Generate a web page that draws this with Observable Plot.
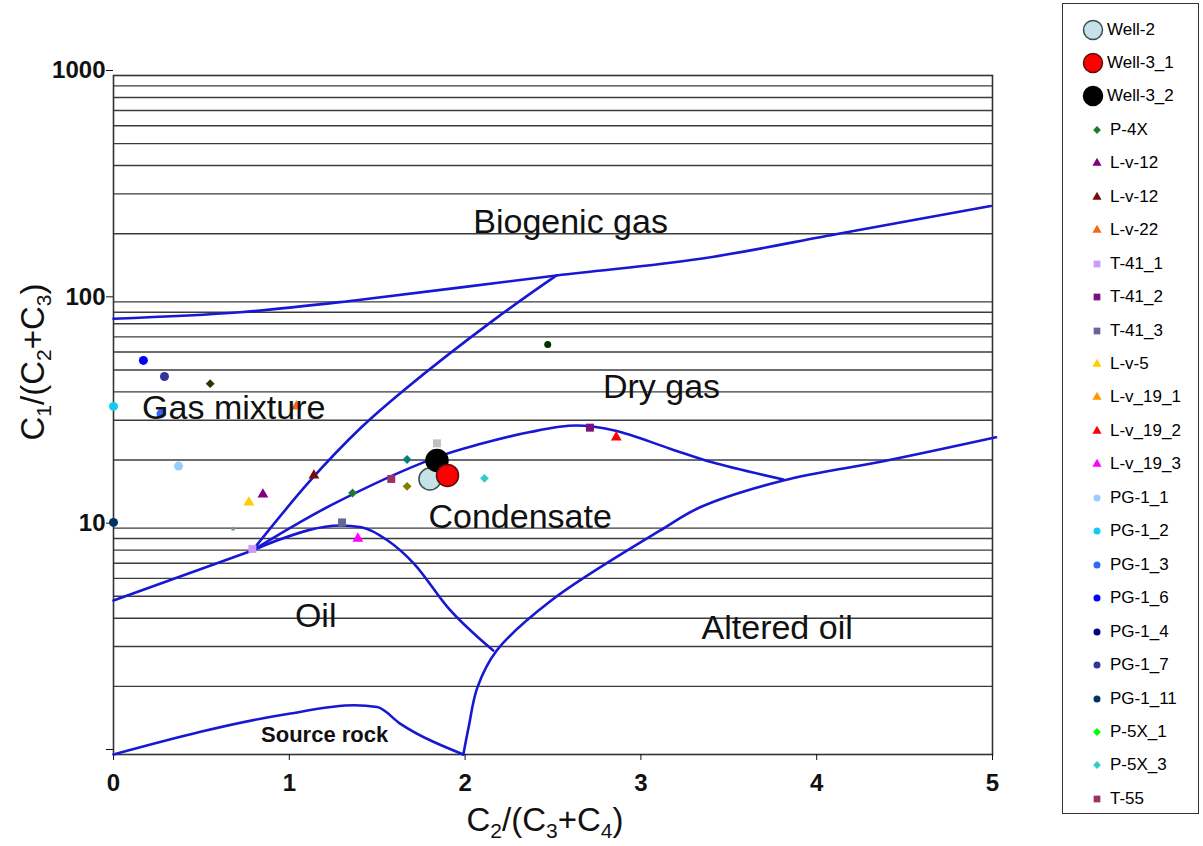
<!DOCTYPE html>
<html><head><meta charset="utf-8">
<script src="https://cdn.jsdelivr.net/npm/d3@7"></script>
<script src="https://cdn.jsdelivr.net/npm/@observablehq/plot@0.6"></script>
<style>
body{margin:0;background:#fff;font-family:Arial,"Liberation Sans",sans-serif;}
#wrap{position:relative;width:1203px;height:846px;overflow:hidden;background:#fff;}
#chart{position:absolute;left:0;top:0;}
#legend{position:absolute;left:1062px;top:3px;width:137px;height:811px;border:1.5px solid #333;box-sizing:border-box;background:#fff;}
.item{position:absolute;height:22px;line-height:22px;font-size:17px;color:#000;white-space:nowrap;}
.mk{position:absolute;}
.title{position:absolute;font-size:33px;color:#111;white-space:nowrap;line-height:1;}
.title sub{font-size:21px;vertical-align:-7px;}
#ytitle{left:35px;top:362px;transform:translate(-50%,-50%) rotate(-90deg);}
#xtitle{left:545px;top:822px;transform:translate(-50%,-50%);}
</style>
</head><body>
<div id="wrap">
  <div id="chart"></div>
  <div id="ytitle" class="title">C<sub>1</sub>/(C<sub>2</sub>+C<sub>3</sub>)</div>
  <div id="xtitle" class="title">C<sub>2</sub>/(C<sub>3</sub>+C<sub>4</sub>)</div>
  <div id="legend"></div>
</div>
<script>
// ---------- data ----------
const legendKeys   = ["Well-2","Well-3_1","Well-3_2","P-4X","L-v-12a","L-v-12b","L-v-22","T-41_1","T-41_2","T-41_3","L-v-5","L-v_19_1","L-v_19_2","L-v_19_3","PG-1_1","PG-1_2","PG-1_3","PG-1_6","PG-1_4","PG-1_7","PG-1_11","P-5X_1","P-5X_3","T-55"];
const legendLabels = ["Well-2","Well-3_1","Well-3_2","P-4X","L-v-12","L-v-12","L-v-22","T-41_1","T-41_2","T-41_3","L-v-5","L-v_19_1","L-v_19_2","L-v_19_3","PG-1_1","PG-1_2","PG-1_3","PG-1_6","PG-1_4","PG-1_7","PG-1_11","P-5X_1","P-5X_3","T-55"];

// samples: series key, C2/(C3+C4), C1/(C2+C3)
const sampleKeys = ["Well-2","Well-3_1","Well-3_2","P-4X","L-v-12a","L-v-12b","L-v-22","T-41_1","T-41_2","T-41_3","L-v-5","L-v_19_2","L-v_19_3","PG-1_1","PG-1_2","PG-1_3","PG-1_6","PG-1_7","PG-1_11","P-5X_3","T-55","other-1","other-2","other-3","other-4","other-5","other-6"];
const sampleX    = [1.80, 1.90, 1.84, 1.36, 0.85, 1.14, 1.04, 0.79, 2.71, 1.30, 0.77, 2.86, 1.39, 0.37, 0.00, 0.27, 0.17, 0.29, 0.00, 2.11, 1.58, 0.55, 1.67, 1.67, 1.84, 2.47, 0.68];
const sampleY    = [16.5, 17.1, 19.9, 14.3, 14.1, 17.1, 34.5, 8.1, 27.8, 10.6, 13.0, 25.2, 9.0, 18.8, 34.5, 32.0, 55.1, 46.8, 10.6, 16.6, 16.5, 43.5, 20.1, 15.3, 23.7, 64.8, 9.94];

// field boundaries
const biogenicX = [0, 0.72, 1.37, 2.52, 3.34, 4.14, 4.99];
const biogenicY = [84.2, 90.0, 101.4, 130.8, 155, 201, 265];
const gasMixX   = [0.79, 1.12, 1.41, 1.65, 2.16, 2.52];
const gasMixY   = [7.96, 16.25, 27.9, 40.6, 82.8, 130.8];
const lowerX    = [0, 0.79];
const lowerY    = [4.79, 7.96];
const dryGasX   = [0.79, 1.235, 1.84, 2.09, 2.37, 2.63, 2.85, 3.17, 3.40, 3.81];
const dryGasY   = [7.96, 12.6, 20.6, 23.6, 26.6, 28.4, 27.0, 22.4, 19.6, 16.4];
const oilX      = [0.79, 0.93, 1.29, 1.41, 1.56, 1.71, 1.90, 2.16];
const oilY      = [7.96, 8.82, 10.28, 10.1, 8.82, 6.96, 4.48, 2.88];
const alteredX  = [1.99, 2.02, 2.07, 2.18, 2.49, 3.11, 3.34, 3.81, 4.40, 5.02];
const alteredY  = [1.0, 1.32, 1.98, 2.88, 4.79, 9.77, 12.4, 16.25, 19.9, 25.2];
const sourceX   = [0, 0.99, 1.37, 1.50, 1.63, 1.99];
const sourceY   = [1.0, 1.51, 1.65, 1.62, 1.37, 1.0];

const regionNames = ["Biogenic gas","Gas mixture","Dry gas","Condensate","Oil","Altered oil"];
const regionX     = [2.60, 0.684, 3.117, 2.313, 1.150, 3.775];
const regionY     = [226, 33.8, 42.1, 11.19, 4.07, 3.60];
const sourceLabel = "Source rock";
const sourceLabelX = 1.201, sourceLabelY = 1.217;

const xTicks = [0, 1, 2, 3, 4, 5];
const yTicks = [1, 10, 100, 1000];

// ---------- styles ----------
const style = {
  "Well-2":   {fill:"#c6e2e8", symbol:"circle", r:11, stroke:"#36504f"},
  "Well-3_1": {fill:"#ff0000", symbol:"circle", r:11, stroke:"#5a1010"},
  "Well-3_2": {fill:"#000000", symbol:"circle", r:11, stroke:"#000"},
  "P-4X":     {fill:"#1b7d2a", symbol:"diamond2", r:4},
  "L-v-12a":  {fill:"#800080", symbol:"triangle", r:4},
  "L-v-12b":  {fill:"#7a0a0a", symbol:"triangle", r:4},
  "L-v-22":   {fill:"#f06a1a", symbol:"triangle", r:4},
  "T-41_1":   {fill:"#cc99ff", symbol:"square", r:4.5},
  "T-41_2":   {fill:"#7a0f80", symbol:"square", r:4.5},
  "T-41_3":   {fill:"#666699", symbol:"square", r:4.5},
  "L-v-5":    {fill:"#ffcc00", symbol:"triangle", r:4},
  "L-v_19_1": {fill:"#ff9900", symbol:"triangle", r:4},
  "L-v_19_2": {fill:"#ff0000", symbol:"triangle", r:4},
  "L-v_19_3": {fill:"#ff00ff", symbol:"triangle", r:4},
  "PG-1_1":   {fill:"#99ccff", symbol:"circle", r:4.5},
  "PG-1_2":   {fill:"#11ccee", symbol:"circle", r:4.5},
  "PG-1_3":   {fill:"#3366ff", symbol:"circle", r:4.5},
  "PG-1_6":   {fill:"#0000ff", symbol:"circle", r:4.5},
  "PG-1_4":   {fill:"#000080", symbol:"circle", r:4.5},
  "PG-1_7":   {fill:"#333399", symbol:"circle", r:4.5},
  "PG-1_11":  {fill:"#003366", symbol:"circle", r:4.5},
  "P-5X_1":   {fill:"#00ff00", symbol:"diamond2", r:4},
  "P-5X_3":   {fill:"#33cccc", symbol:"diamond2", r:4},
  "T-55":     {fill:"#993366", symbol:"square", r:4.5},
  "other-1":  {fill:"#333300", symbol:"diamond2", r:4},
  "other-2":  {fill:"#008080", symbol:"diamond2", r:4},
  "other-3":  {fill:"#808000", symbol:"diamond2", r:4},
  "other-4":  {fill:"#c0c0c0", symbol:"square", r:4.5},
  "other-5":  {fill:"#003300", symbol:"circle", r:3.5},
  "other-6":  {fill:"#6f9a9a", symbol:"circle", r:2}
};

const samples = sampleKeys.map((k, i) => ({key: k, x: sampleX[i], y: sampleY[i]}));
const curve = (xs, ys) => xs.map((x, i) => ({x, y: ys[i]}));
const smoothBoundaries = [
  curve(biogenicX, biogenicY), curve(gasMixX, gasMixY), curve(lowerX, lowerY),
  curve(dryGasX, dryGasY), curve(alteredX, alteredY)
];
const monoBoundaries = [curve(oilX, oilY), curve(sourceX, sourceY)];
const regions = regionNames.map((t, i) => ({t, x: regionX[i], y: regionY[i]}));

const yGrid = [1, 10, 100].flatMap(d => d3.range(1, 10).map(k => k * d)).filter(v => v > 1);

const wells = ["Well-2", "Well-3_2", "Well-3_1"];
const order = [...new Set(sampleKeys.filter(k => !wells.includes(k)))].concat(wells);
const dotMarks = order.map(k => {
  const s = style[k];
  return Plot.dot(samples.filter(d => d.key === k), {
    x: "x", y: "y", fill: s.fill, symbol: s.symbol, r: s.r,
    stroke: s.stroke || "none", strokeWidth: s.stroke ? 1.5 : 0
  });
});

const lineStyle = {x: "x", y: "y", stroke: "#1717d4", strokeWidth: 2.6};
const W = 1050, H = 846;
const chart = Plot.plot({
  width: W, height: H,
  marginLeft: 113, marginRight: W - 992, marginTop: 75, marginBottom: 92,
  style: {fontFamily: "Arial, 'Liberation Sans', sans-serif", background: "white", color: "#111"},
  x: {domain: [0, 5]},
  y: {type: "log", domain: [1, 1000]},
  marks: [
    Plot.ruleY(yGrid, {stroke: "#3c3c3c", strokeWidth: 1.4}),
    Plot.frame({stroke: "#333", strokeWidth: 1.6}),
    Plot.axisX({ticks: xTicks, tickSize: 6, tickPadding: 13, fontSize: 24, fontWeight: "bold", label: null, tickFormat: d => String(d)}),
    Plot.axisY({ticks: yTicks, tickSize: 7, tickPadding: 1, fontSize: 24, fontWeight: "bold", label: null, dy: -5,
                tickFormat: d => d === 1 ? "" : String(d)}),
    ...smoothBoundaries.map(b => Plot.line(b, {...lineStyle, curve: "catmull-rom"})),
    ...monoBoundaries.map(b => Plot.line(b, {...lineStyle, curve: "monotone-x"})),
    ...dotMarks,
    Plot.text(regions, {x: "x", y: "y", text: "t", fontSize: 34, fill: "#111"}),
    Plot.text([sourceLabel], {x: () => sourceLabelX, y: () => sourceLabelY, text: d => d, fontSize: 22, fontWeight: "bold", fill: "#111"})
  ]
});
document.getElementById("chart").appendChild(chart);

// ---------- legend ----------
const legend = d3.select("#legend");
legendKeys.forEach((k, i) => {
  const s = style[k];
  const cy = 28.5 + i * 33.45 - 3;          // relative to legend box top
  const big = s.r > 6;
  const size = big ? 24 : 14;
  const svg = legend.append("svg").attr("class", "mk")
    .attr("width", size).attr("height", size)
    .style("left", ((big ? 30 : 34) - size / 2) + "px")
    .style("top", (cy - size / 2) + "px");
  const rr = big ? 9.5 : (s.symbol === "triangle" ? 3.4 : s.symbol === "square" ? 3.8 : 3.5);
  const sym = {circle: d3.symbolCircle, square: d3.symbolSquare, triangle: d3.symbolTriangle, diamond2: d3.symbolDiamond2}[s.symbol];
  svg.append("path")
    .attr("transform", `translate(${size / 2},${size / 2})`)
    .attr("d", d3.symbol(sym, Math.PI * rr * rr)())
    .attr("fill", s.fill)
    .attr("stroke", s.stroke || "none")
    .attr("stroke-width", s.stroke ? 1.5 : 0);
  legend.append("div").attr("class", "item")
    .style("left", (big ? 44 : 47) + "px")
    .style("top", (cy - 11) + "px")
    .text(legendLabels[i]);
});
</script>
</body></html>
